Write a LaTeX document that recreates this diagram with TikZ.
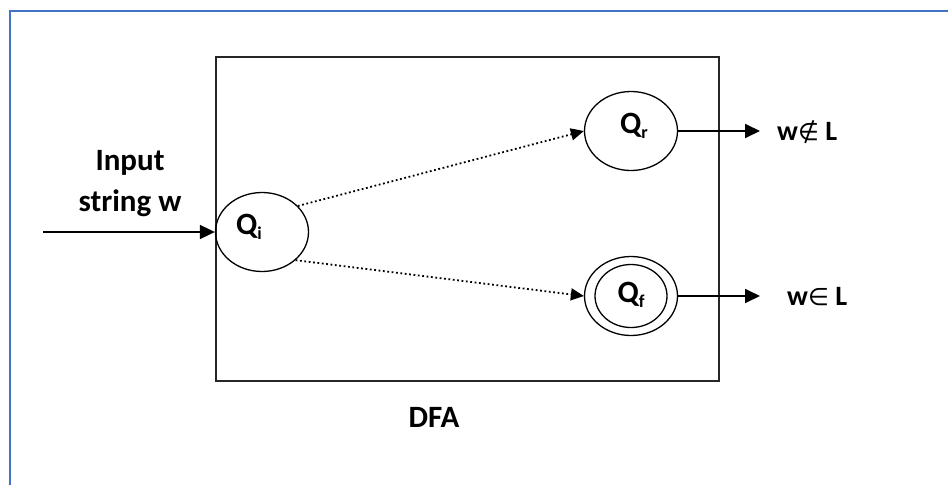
\documentclass[tikz,border=0pt]{standalone}
\usepackage{fontspec}
\setmainfont{Carlito}
\newfontfamily\symfont{DejaVu Sans}
\usetikzlibrary{arrows.meta,shapes.geometric}
\definecolor{frameblue}{RGB}{68,114,196}
\newcommand\qlab[1]{\fontsize{31}{31}\selectfont\bfseries Q\raisebox{-5pt}{\fontsize{18}{18}\selectfont #1}}
\newcommand\rel[1]{{\mdseries\fontsize{24}{30}\symfont #1}}
\begin{document}
\begin{tikzpicture}[x=1pt,y=-1pt,
  state/.style={draw, ellipse, line width=1.3pt, inner sep=0pt, minimum width=93pt, minimum height=79pt},
  big/.style={font=\fontsize{31}{41}\selectfont\bfseries, inner sep=0pt},
  res/.style={font=\fontsize{28}{30}\selectfont\bfseries, inner sep=0pt},
  solidarrow/.style={line width=1.8pt, -{Triangle[length=15pt,width=14pt]}},
  dotarrow/.style={line width=1.8pt, dash pattern=on 1.8pt off 2.6pt, -{Triangle[length=13pt,width=12pt]}}
]
\useasboundingbox (0,0) rectangle (948,485);
% blue frame
\draw[frameblue, line width=2.5pt] (10,485) -- (10,11) -- (948,11);
% DFA box
\draw[line width=1.6pt, black!85] (216,57) rectangle (719,381);
\node[big, anchor=base] (dfa) at (434,427) {DFA};
% states
\node[state, label={[inner sep=0pt, xshift=-13pt, yshift=5pt]center:\qlab{i}}] (qi) at (262,232) {};
\node[state, label={[inner sep=0pt, xshift=3pt, yshift=5pt]center:\qlab{r}}] (qr) at (631,131) {};
\node[state, label={[inner sep=0pt, xshift=0pt, yshift=1pt]center:\qlab{f}}] (qf) at (631,296) {};
\draw[line width=1.3pt] (qf.center) ellipse (36pt and 31.5pt);
% input
\node[big, align=center] (inp) at (130,184) {Input\\string w};
\coordinate (instart) at (43,232);
\draw[solidarrow] (instart) -- (qi.west);
% transitions
\draw[dotarrow] (qi.36) -- (qr.west);
\draw[dotarrow] (qi.-40) -- (qf.west);
% outputs
\coordinate (rend) at (760,131);
\coordinate (fend) at (760,296);
\draw[solidarrow] (qr.east) -- (rend);
\draw[solidarrow] (qf.east) -- (fend);
\node[res, anchor=base west] (notin) at (777,140) {w\rel{∉} L};
\node[res, anchor=base west] (isin) at (787,305) {w\rel{∈} L};
\end{tikzpicture}
\end{document}
